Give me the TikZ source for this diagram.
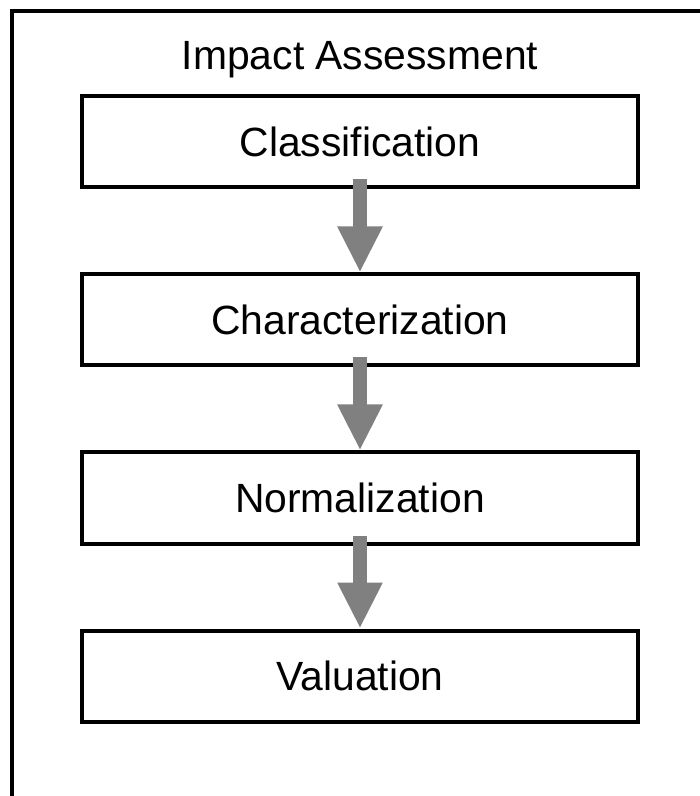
\documentclass[tikz,border=0pt]{standalone}
\usepackage{fontspec}
\setmainfont{Liberation Sans}
\usetikzlibrary{arrows.meta,positioning}
\definecolor{colFleche}{RGB}{128,128,128}

\begin{document}
\begin{tikzpicture}[x=1bp, y=1bp, font=\fontsize{41}{48}\selectfont,
    node distance=178bp, on grid,
    stage/.style={rectangle, draw, line width=4bp, align=center,
      minimum width=556bp, minimum height=91bp, inner sep=0pt},
    fl/.style={-{Triangle[width=42bp, length=46bp]}, line width=14bp, colFleche}]
  \useasboundingbox (0,0) rectangle (700,796);
  \clip (0,0) rectangle (700,796);
  % cadre
  \draw[line width=4bp] (12,-10) rectangle (702,785);
  \node[anchor=base] (title) at (360,726) {Impact Assessment};
  \node[stage] (classif) at (360,654) {Classification};
  \node[stage, below=of classif] (charac) {Characterization};
  \node[stage, below=of charac] (norm) {Normalization};
  \node[stage, below=of norm] (valu) {Valuation};
  \draw[fl] ([yshift=10bp]classif.south) -- (charac.north);
  \draw[fl] ([yshift=10bp]charac.south) -- (norm.north);
  \draw[fl] ([yshift=10bp]norm.south) -- (valu.north);
\end{tikzpicture}
\end{document}
